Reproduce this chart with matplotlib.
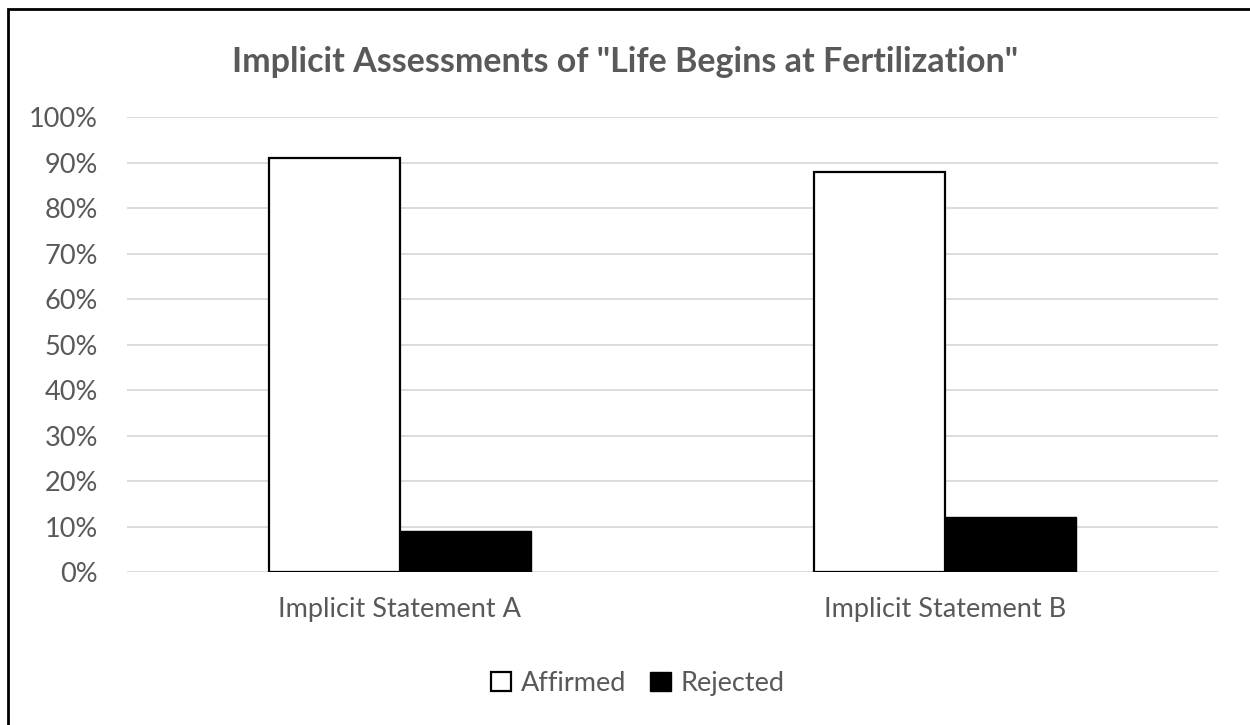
import matplotlib.pyplot as plt
import numpy as np
from matplotlib.patches import Rectangle

# данные диаграммы
categories = ['Implicit Statement A', 'Implicit Statement B']
affirmed = [0.91, 0.88]
rejected = [0.09, 0.12]
series_names = ['Affirmed', 'Rejected']
yticks = np.arange(0, 1.01, 0.1)

text_color = '#595959'
plt.rcParams['font.family'] = ['Lato', 'DejaVu Sans']

fig = plt.figure(figsize=(12.5, 7.25), dpi=100)
ax = fig.add_axes([0.1016, 0.211, 0.8728, 0.6276])

x = np.arange(len(categories))
w = 0.24
ax.bar(x - w / 2, affirmed, w, color='white', edgecolor='black', linewidth=1.6,
       label=series_names[0], zorder=3)
ax.bar(x + w / 2, rejected, w, color='black', edgecolor='black', linewidth=1.0,
       label=series_names[1], zorder=3)

ax.set_xlim(-0.5, 1.5)
ax.set_ylim(0, 1)
ax.set_yticks(yticks)
ax.set_yticklabels(['%d%%' % round(v * 100) for v in yticks])
ax.set_xticks(x)
ax.set_xticklabels(categories)
ax.tick_params(axis='both', length=0, labelsize=19.5, colors=text_color)
ax.tick_params(axis='y', pad=21)
ax.tick_params(axis='x', pad=18)
ax.grid(axis='y', color='#d9d9d9', linewidth=1.3, zorder=0)
for s in ax.spines.values():
    s.set_visible(False)

fig.text(0.5, 0.915, 'Implicit Assessments of "Life Begins at Fertilization"',
         ha='center', va='center', fontsize=24.5, fontweight='bold', color=text_color)

leg = ax.legend(loc='center', bbox_to_anchor=(0.468, -0.245), ncol=2, frameon=False,
                fontsize=19.5, handlelength=0.75, handleheight=0.75, handletextpad=0.35,
                columnspacing=0.9)
for t in leg.get_texts():
    t.set_color(text_color)

# рамка вокруг рисунка (видны только верх и левый край)
fig.patches.append(Rectangle((8 / 1250, -0.1), 1.2, 1 - 9 / 725 + 0.1,
                             transform=fig.transFigure, fill=False,
                             edgecolor='black', linewidth=2))

fig.savefig('out.png', dpi=100)
